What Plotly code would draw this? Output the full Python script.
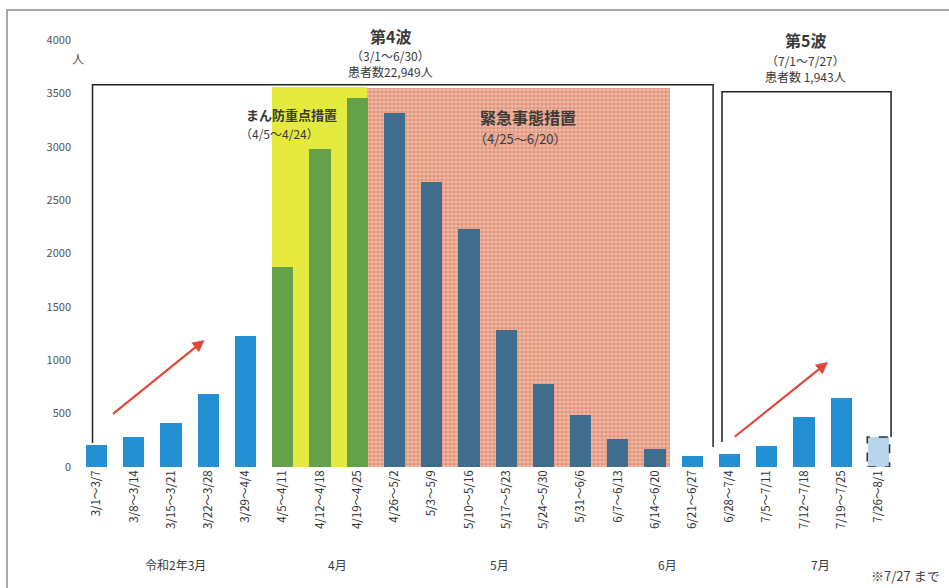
import plotly.graph_objects as go

# ---- data ----
weeks = ["3/1〜3/7", "3/8〜3/14", "3/15〜3/21", "3/22〜3/28", "3/29〜4/4",
         "4/5〜4/11", "4/12〜4/18", "4/19〜4/25", "4/26〜5/2", "5/3〜5/9",
         "5/10〜5/16", "5/17〜5/23", "5/24〜5/30", "5/31〜6/6", "6/7〜6/13",
         "6/14〜6/20", "6/21〜6/27", "6/28〜7/4", "7/5〜7/11", "7/12〜7/18",
         "7/19〜7/25", "7/26〜8/1"]
patients = [210, 280, 415, 680, 1230, 1870, 2980, 3460, 3320, 2670, 2230,
            1280, 780, 490, 265, 165, 105, 125, 200, 470, 645, 280]
phase = ["normal"] * 5 + ["manbo"] * 3 + ["emergency"] * 8 + ["normal"] * 5 + ["partial"]
y_ticks = [0, 500, 1000, 1500, 2000, 2500, 3000, 3500, 4000]
month_labels = ["令和2年3月", "4月", "5月", "6月", "7月"]

FONT = "Noto Sans CJK JP"
colors = {"normal": "#2290d3", "manbo": "#65a04a", "emergency": "#3f6d8b", "partial": "#b7d5ea"}

# plot-area geometry (pixels)
L, R, T, B = 78, 52, 40, 121
W, H = 949 - L - R, 588 - T - B

def xp(px):
    return (px - L) / W

def yp(py):
    return (588 - B - py) / H

x = list(range(len(weeks)))
fig = go.Figure()

# background regions (measure periods)
manbo_idx = [i for i, p in enumerate(phase) if p == "manbo"]
emer_idx = [i for i, p in enumerate(phase) if p == "emergency"]
m0 = manbo_idx[0] - 0.3
m1 = manbo_idx[-1] + 0.25
fig.add_trace(go.Bar(x=[(m0 + m1) / 2], y=[3560], width=[m1 - m0],
                     marker=dict(color="#e5ea3e", line=dict(width=0)),
                     hoverinfo="skip", showlegend=False))
e0 = emer_idx[0] - 0.75
e1 = emer_idx[-1] + 0.4
fig.add_trace(go.Bar(x=[(e0 + e1) / 2], y=[3550], width=[e1 - e0],
                     marker=dict(color="#e29a80", line=dict(width=0),
                                 pattern=dict(shape=".", fgcolor="#f8e0d2", bgcolor="#e2967c",
                                              size=4, solidity=0.5)),
                     hoverinfo="skip", showlegend=False))

# data bars
fig.add_trace(go.Bar(x=x, y=patients, width=0.57,
                     marker=dict(color=[colors[p] for p in phase], line=dict(width=0)),
                     showlegend=False, name="患者数"))

# dashed outline for partial last week
last = len(weeks) - 1
fig.add_shape(type="rect", x0=last - 0.3, x1=last + 0.3, y0=0, y1=patients[last],
              line=dict(color="#333", width=1.5, dash="dash"))

# wave brackets
fig.add_shape(type="path", path="M -0.11,225 L -0.11,3580 L 16.56,3580 L 16.56,187",
              line=dict(color="#222", width=1.5))
fig.add_shape(type="path", path="M 16.8,234 L 16.8,3515 L 21.34,3515 L 21.34,281",
              line=dict(color="#222", width=1.5))

# frame
fig.add_shape(type="rect", xref="paper", yref="paper", x0=xp(7), x1=xp(960), y0=yp(600), y1=yp(10),
              line=dict(color="#8a8a8a", width=1.5))

# arrows
fig.add_annotation(x=2.9, y=1190, ax=0.4, ay=487, axref="x", ayref="y", xref="x", yref="y",
                   showarrow=True, arrowhead=2, arrowsize=1.1, arrowwidth=2.2, arrowcolor="#e0483a", text="")
fig.add_annotation(x=19.65, y=984, ax=17.1, ay=272, axref="x", ayref="y", xref="x", yref="y",
                   showarrow=True, arrowhead=2, arrowsize=1.1, arrowwidth=2.2, arrowcolor="#e0483a", text="")

def txt(t, px, py, size, bold=False, color="#3a3a3a", xanchor="center"):
    fig.add_annotation(text=f"<b>{t}</b>" if bold else t, x=xp(px), y=yp(py),
                       xref="paper", yref="paper", showarrow=False, xanchor=xanchor, yanchor="middle",
                       font=dict(family=FONT, size=size, color=color))

txt("第4波", 390, 36, 16, bold=True)
txt("（3/1〜6/30）", 390, 55, 12)
txt("患者数22,949人", 390, 72, 12)
txt("第5波", 805, 40, 16, bold=True)
txt("（7/1〜7/27）", 805, 60, 12)
txt("患者数 1,943人", 805, 76, 12)
txt("まん防重点措置", 244, 115, 13, bold=True, xanchor="left")
txt("（4/5〜4/24）", 238, 133, 12, xanchor="left")
txt("緊急事態措置", 478, 117, 16, bold=True, xanchor="left")
txt("（4/25〜6/20）", 472, 138, 13, xanchor="left")
txt("人", 78, 58, 12, color="#555")

month_px = [175, 337, 500, 667, 820]
for m, px in zip(month_labels, month_px):
    txt(m, px, 564, 12)
txt("※7/27 まで", 905, 575, 13, color="#444")

fig.update_layout(
    width=949, height=588, margin=dict(l=L, r=R, t=T, b=B),
    paper_bgcolor="white", plot_bgcolor="white", barmode="overlay", bargap=0,
    font=dict(family=FONT, color="#444"),
    xaxis=dict(range=[-0.5, len(weeks) - 0.5], tickmode="array", tickvals=x, ticktext=weeks,
               tickangle=-90, tickfont=dict(size=11.5, color="#333"), showgrid=False,
               showline=False, zeroline=False, ticks=""),
    yaxis=dict(range=[0, 4000], tickmode="array", tickvals=y_ticks,
               tickfont=dict(size=11, color="#555"), showgrid=False, zeroline=False,
               showline=False, ticks="", ticklabelstandoff=6),
)

fig.write_html("out.html")
